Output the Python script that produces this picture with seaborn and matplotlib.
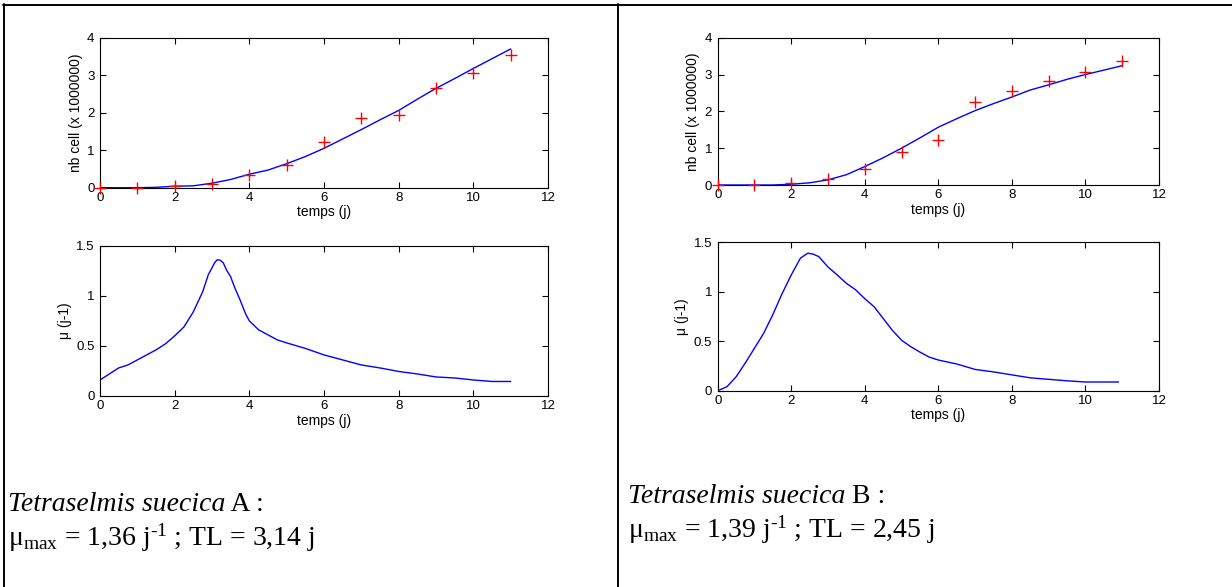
import matplotlib
matplotlib.use("Agg")
import matplotlib.pyplot as plt
from matplotlib.lines import Line2D
import seaborn as sns

# Measured cell counts (x 1e6) per day
days = [0, 1, 2, 3, 4, 5, 6, 7, 8, 9, 10, 11]
cells_a = [0.0, 0.0, 0.04, 0.10, 0.34, 0.60, 1.21, 1.86, 1.94, 2.65, 3.07, 3.54]
cells_b = [0.0, 0.0, 0.06, 0.15, 0.43, 0.89, 1.22, 2.26, 2.55, 2.82, 3.08, 3.37]

# Model fit of the cell counts
fit_t = [0, 0.5, 1, 1.5, 2, 2.5, 3, 3.5, 4, 4.5, 5, 5.5, 6, 6.5, 7, 7.5, 8,
         8.5, 9, 9.5, 10, 10.5, 11]
fit_a = [0.0, 0.0, 0.0, 0.01, 0.04, 0.05, 0.12, 0.22, 0.36, 0.47, 0.64, 0.83,
         1.05, 1.30, 1.55, 1.81, 2.06, 2.36, 2.65, 2.91, 3.18, 3.44, 3.70]
fit_b = [0.0, 0.0, 0.0, 0.0, 0.02, 0.06, 0.14, 0.28, 0.50, 0.74, 1.00, 1.28,
         1.57, 1.80, 2.02, 2.21, 2.39, 2.58, 2.72, 2.87, 3.00, 3.12, 3.24]

# Specific growth rate mu (j-1)
mu_t_a = [0, 0.25, 0.5, 0.75, 1.0, 1.25, 1.5, 1.75, 2.0, 2.25, 2.5, 2.75, 2.9,
          3.0, 3.07, 3.14, 3.22, 3.3, 3.4, 3.5, 3.6, 3.75, 3.9, 4.0, 4.25, 4.5,
          4.75, 5.0, 5.5, 6.0, 6.5, 7.0, 7.5, 8.0, 8.5, 9.0, 9.5, 10.0, 10.5, 11.0]
mu_a = [0.16, 0.22, 0.28, 0.31, 0.36, 0.41, 0.46, 0.52, 0.60, 0.69, 0.84, 1.04,
        1.21, 1.28, 1.33, 1.36, 1.355, 1.33, 1.25, 1.19, 1.09, 0.96, 0.82, 0.75,
        0.66, 0.61, 0.56, 0.53, 0.475, 0.41, 0.36, 0.31, 0.28, 0.245, 0.22,
        0.19, 0.18, 0.16, 0.145, 0.145]
mu_t_b = [0, 0.25, 0.5, 0.75, 1.0, 1.25, 1.5, 1.75, 2.0, 2.25, 2.45, 2.6, 2.75,
          3.0, 3.25, 3.5, 3.75, 4.0, 4.25, 4.5, 4.75, 5.0, 5.25, 5.5, 5.75, 6.0,
          6.5, 7.0, 7.5, 8.0, 8.5, 9.0, 9.5, 10.0, 10.5, 10.9]
mu_b = [0.0, 0.04, 0.14, 0.28, 0.43, 0.58, 0.77, 0.98, 1.17, 1.34, 1.39, 1.38,
        1.355, 1.25, 1.17, 1.085, 1.02, 0.93, 0.85, 0.73, 0.61, 0.51, 0.445,
        0.39, 0.34, 0.31, 0.27, 0.215, 0.19, 0.16, 0.13, 0.115, 0.10, 0.088,
        0.088, 0.088]

captions = [("Tetraselmis suecica", "A", "1,36", "3,14"),
            ("Tetraselmis suecica", "B", "1,39", "2,45")]

sns.set_style("ticks")
plt.rcParams["font.family"] = ["Liberation Sans", "DejaVu Sans"]
plt.rcParams["mathtext.fontset"] = "custom"
plt.rcParams["mathtext.rm"] = "Liberation Serif"
plt.rcParams["mathtext.it"] = "Liberation Serif:italic"
plt.rcParams["text.color"] = "black"
plt.rcParams["axes.labelcolor"] = "black"

W, H = 1232, 587
fig = plt.figure(figsize=(W / 100, H / 100), dpi=100)
fig.patch.set_facecolor("white")


def px_axes(left, top, right, bottom):
    return fig.add_axes([left / W, 1 - bottom / H, (right - left) / W,
                         (bottom - top) / H])


def style(ax, ylim, yticks, ylabel):
    ax.set_xlim(0, 12)
    ax.set_ylim(*ylim)
    ax.set_xticks([0, 2, 4, 6, 8, 10, 12])
    ax.set_yticks(yticks)
    ax.set_yticklabels([("%g" % v) for v in yticks])
    for s in ax.spines.values():
        s.set_visible(True)
        s.set_color("black")
        s.set_linewidth(0.8)
    ax.tick_params(direction="in", length=4, width=0.8, top=True, right=True,
                   labelsize=9.5, colors="black", pad=3)
    ax.tick_params(axis="y", pad=4)
    ax.set_xlabel("temps (j)", fontsize=10, labelpad=1)
    ax.set_ylabel(ylabel, fontsize=10, labelpad=3)
    ax.set_facecolor("white")
    ax.grid(False)


panels = [
    ((100, 37.7, 548, 187.7), (100, 245.7, 548, 396), cells_a, fit_a, mu_t_a, mu_a),
    ((717.7, 37.7, 1159, 185), (717.7, 242.3, 1159, 390.7), cells_b, fit_b, mu_t_b, mu_b),
]

for top_box, bot_box, cells, fit, mt, mu in panels:
    ax1 = px_axes(*top_box)
    sns.lineplot(x=fit_t, y=fit, ax=ax1, color="blue", linewidth=1.0)
    sns.scatterplot(x=days, y=cells, ax=ax1, marker="+", color="red", s=70,
                    linewidth=1.0, clip_on=False, zorder=3)
    style(ax1, (0, 4), [0, 1, 2, 3, 4], "nb cell (x 1000000)")

    ax2 = px_axes(*bot_box)
    sns.lineplot(x=mt, y=mu, ax=ax2, color="blue", linewidth=1.0)
    style(ax2, (0, 1.5), [0, 0.5, 1, 1.5], "\u03bc (j-1)")

# Captions below each pair of plots
FS = 20
HYPHEN = "\u2010"
cap_pos = [(8, 511, 546), (628, 503, 538)]
fig.canvas.draw()
for (species, strain, mumax, tl), (x0, y1, y2) in zip(captions, cap_pos):
    t = fig.text(x0 / W, 1 - y1 / H, species, fontsize=FS,
                 family="Liberation Serif", style="italic", va="baseline")
    bb = t.get_window_extent(renderer=fig.canvas.get_renderer())
    fig.text(bb.x1 / W, 1 - y1 / H, " %s :" % strain, fontsize=FS,
             family="Liberation Serif", va="baseline")
    line2 = (r"$\mathrm{\mu}_{\mathrm{max}}$ = " + mumax
             + r" j$^{\mathrm{" + HYPHEN + r"1}}$ ; TL = " + tl + " j")
    fig.text(x0 / W, 1 - y2 / H, line2,
             fontsize=FS, family="Liberation Serif", va="baseline")

# Table frame: top rule, left edge and the column divider
frame_kw = dict(color="black", linewidth=1.4, transform=fig.transFigure)
fig.add_artist(Line2D([3 / W, 1], [1 - 5 / H, 1 - 5 / H], **frame_kw))
fig.add_artist(Line2D([4 / W, 4 / W], [0, 1 - 4 / H], **frame_kw))
fig.add_artist(Line2D([617.5 / W, 617.5 / W], [0, 1 - 4 / H], **frame_kw))

fig.savefig("out.png", dpi=100, facecolor="white")
